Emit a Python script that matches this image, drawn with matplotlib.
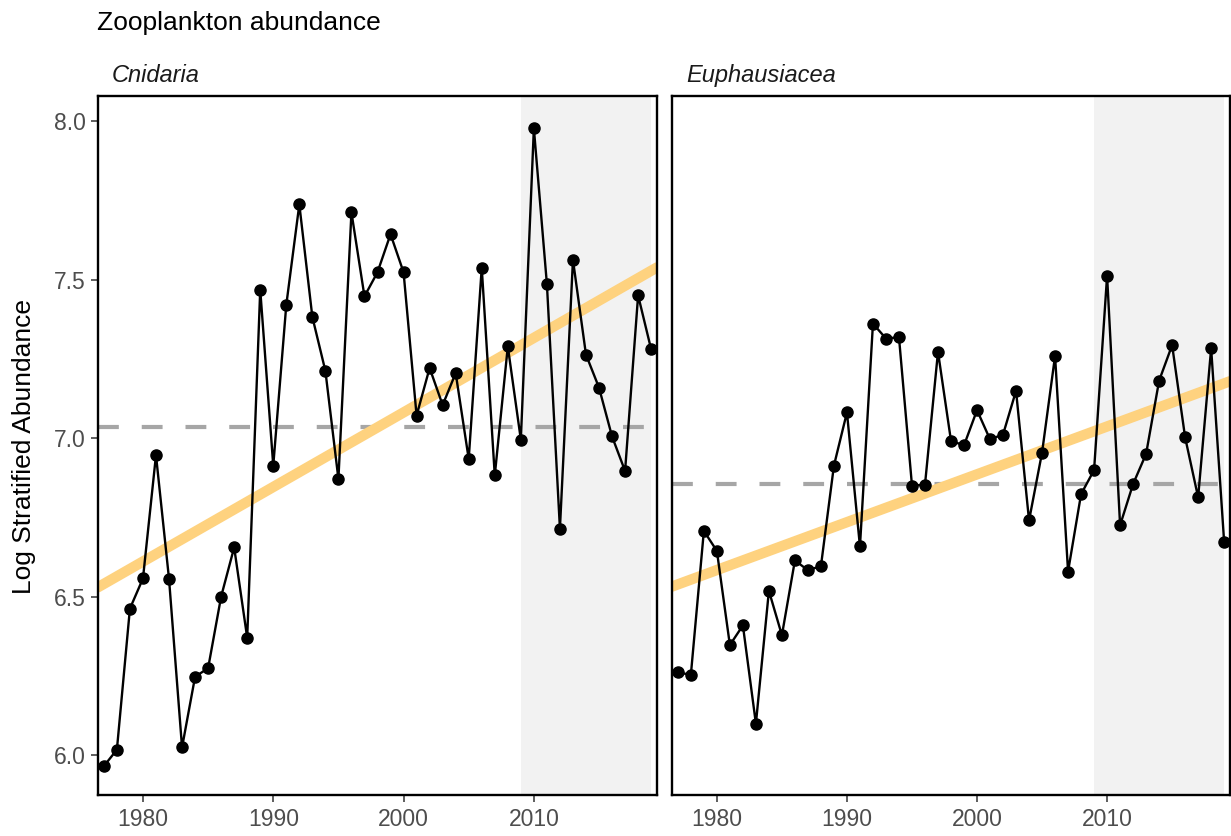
import numpy as np
import matplotlib
matplotlib.use("Agg")
import matplotlib.pyplot as plt

plt.rcParams['font.family'] = ['Liberation Sans', 'DejaVu Sans']

years = np.arange(1977, 2020)

cnidaria = [5.965, 6.017, 6.462, 6.557, 6.946, 6.556, 6.024, 6.247, 6.274, 6.500,
            6.655, 6.370, 7.468, 6.913, 7.420, 7.737, 7.382, 7.212, 6.871, 7.712,
            7.447, 7.523, 7.643, 7.523, 7.071, 7.221, 7.104, 7.205, 6.934, 7.537,
            6.882, 7.289, 6.995, 7.977, 7.486, 6.714, 7.562, 7.263, 7.159, 7.005,
            6.896, 7.450, 7.280]

euphausiacea = [6.261, 6.253, 6.707, 6.644, 6.347, 6.409, 6.099, 6.518, 6.378, 6.614,
                6.583, 6.596, 6.913, 7.081, 6.658, 7.361, 7.314, 7.318, 6.850, 6.853,
                7.272, 6.991, 6.977, 7.088, 6.996, 7.011, 7.149, 6.740, 6.954, 7.259,
                6.579, 6.823, 6.899, 7.512, 6.725, 6.855, 6.950, 7.181, 7.293, 7.002,
                6.813, 7.283, 6.672]

panels = [("Cnidaria", cnidaria), ("Euphausiacea", euphausiacea)]
recent_start, recent_end = 2009, 2019

W, H = 1231, 836
fig = plt.figure(figsize=(W / 100, H / 100), dpi=100)

boxes = [(98, 657), (672, 1230)]
top, bottom = 96, 795
xlim = (1976.55, 2019.45)
ylim = (5.874, 8.079)

for i, ((name, vals), (x0, x1)) in enumerate(zip(panels, boxes)):
    ax = fig.add_axes([x0 / W, (H - bottom) / H, (x1 - x0) / W, (bottom - top) / H])
    vals = np.array(vals)

    ax.axvspan(recent_start, recent_end, color="#F2F2F2", lw=0, zorder=0)
    ax.axhline(vals.mean(), color="#A6A6A6", lw=3, dashes=(5, 5.5), zorder=1)

    # linear trend across the panel
    slope, icept = np.polyfit(years, vals, 1)
    xs = np.array(xlim)
    ax.plot(xs, icept + slope * xs, color="#FED27F", lw=7.5, solid_capstyle="round", zorder=2)

    ax.plot(years, vals, color="black", lw=1.7, marker="o", ms=8, zorder=3, clip_on=False)

    ax.set_xlim(*xlim)
    ax.set_ylim(*ylim)
    ax.set_xticks([1980, 1990, 2000, 2010])
    ax.set_yticks([6.0, 6.5, 7.0, 7.5, 8.0])
    ax.yaxis.set_major_formatter(matplotlib.ticker.FormatStrFormatter("%.1f"))
    ax.tick_params(colors="#333333", labelcolor="#4D4D4D", labelsize=16.5,
                   length=5, width=1.1, pad=4)
    if i > 0:
        ax.tick_params(axis="y", left=False, labelleft=False)
    for s in ax.spines.values():
        s.set_linewidth(1.7)
        s.set_color("black")
    fig.text((x0 + 14) / W, 1 - 82 / H, name, style="italic", fontsize=17,
             color="#1A1A1A", ha="left", va="baseline")

fig.text(97 / W, 1 - 30 / H, "Zooplankton abundance", fontsize=19, ha="left", va="baseline")
fig.text(24 / W, 1 - 446 / H, "Log Stratified Abundance", fontsize=19, rotation=90,
         ha="center", va="center")

fig.savefig("out.png", dpi=100)
